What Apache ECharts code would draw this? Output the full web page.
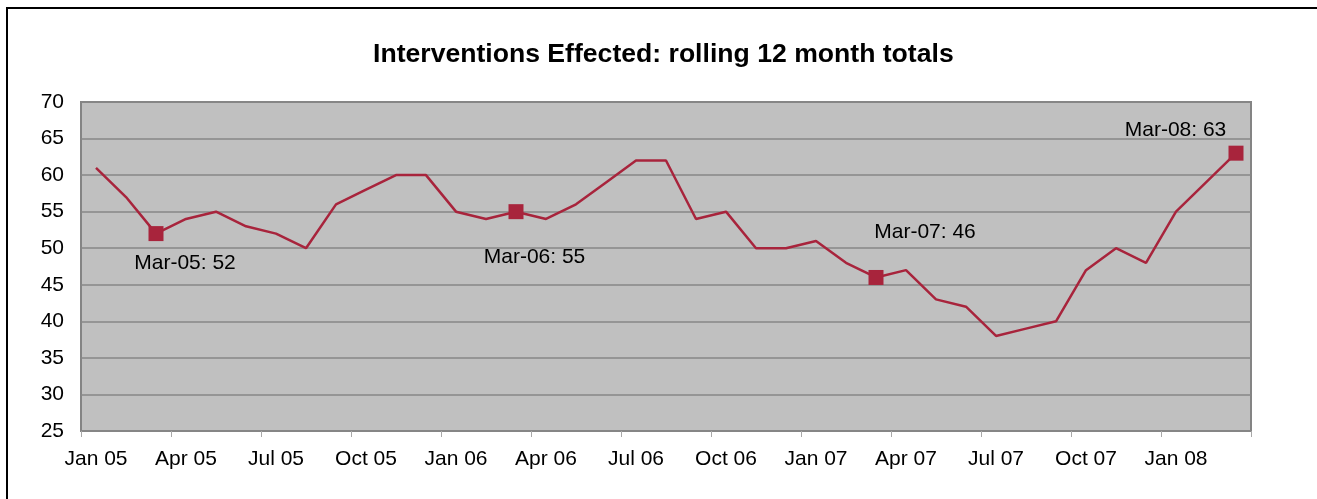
<!DOCTYPE html>
<html>
<head>
<meta charset="utf-8">
<script src="https://cdn.jsdelivr.net/npm/echarts@6/dist/echarts.min.js"></script>
<style>
html,body{margin:0;padding:0;background:#fff;}
#c{width:1317px;height:499px;}
</style>
</head>
<body>
<div id="c"></div>
<script>
var categories = [
  'Jan 05','Feb 05','Mar 05','Apr 05','May 05','Jun 05','Jul 05','Aug 05','Sep 05','Oct 05','Nov 05','Dec 05',
  'Jan 06','Feb 06','Mar 06','Apr 06','May 06','Jun 06','Jul 06','Aug 06','Sep 06','Oct 06','Nov 06','Dec 06',
  'Jan 07','Feb 07','Mar 07','Apr 07','May 07','Jun 07','Jul 07','Aug 07','Sep 07','Oct 07','Nov 07','Dec 07',
  'Jan 08','Feb 08','Mar 08'
];
var values = [
  61,57,52,54,55,53,52,50,56,58,60,60,
  55,54,55,54,56,59,62,62,54,55,50,50,
  51,48,46,47,43,42,38,39,40,47,50,48,
  55,59,63
];
var highlighted = ['Mar 05','Mar 06','Mar 07','Mar 08'];
var yTicks = [25,30,35,40,45,50,55,60,65,70];

var labelOffsets = {
  'Mar 05': [29, 30],
  'Mar 06': [18.5, 46],
  'Mar 07': [49, -45.5],
  'Mar 08': [-60.5, -22.5]
};

var markerData = categories.map(function (c, i) {
  if (highlighted.indexOf(c) < 0) return null;
  return {
    value: values[i],
    label: {
      show: true,
      position: 'inside',
      offset: labelOffsets[c],
      formatter: c.replace(' ', '-') + ': ' + values[i]
    }
  };
});

var chart = echarts.init(document.getElementById('c'), null, {renderer: 'canvas'});
chart.setOption({
  animation: false,
  backgroundColor: '#ffffff',
  title: {
    text: 'Interventions Effected: rolling 12 month totals',
    left: 373,
    top: 41,
    padding: 0,
    textStyle: {
      fontFamily: 'Liberation Sans, Arial, sans-serif',
      fontWeight: 'bold',
      fontSize: 26.6,
      color: '#000'
    }
  },
  graphic: [{
    type: 'polyline',
    shape: {points: [[7, 499], [7, 8], [1317, 8]]},
    style: {stroke: '#000', lineWidth: 2, fill: null},
    silent: true
  }],
  grid: {
    left: 81, right: 66, top: 102, bottom: 68,
    show: true,
    backgroundColor: '#C0C0C0',
    borderColor: '#848484',
    borderWidth: 2
  },
  xAxis: {
    type: 'category',
    data: categories,
    boundaryGap: true,
    axisLine: {show: false},
    axisTick: {show: true, interval: 2, length: 6, lineStyle: {color: '#a8a8a8', width: 1}},
    axisLabel: {
      interval: 2,
      margin: 18,
      fontFamily: 'Liberation Sans, Arial, sans-serif',
      fontSize: 21,
      color: '#000'
    },
    splitLine: {show: false}
  },
  yAxis: {
    type: 'value',
    min: yTicks[0],
    max: yTicks[yTicks.length - 1],
    interval: 5,
    axisLine: {show: false},
    axisTick: {show: false},
    axisLabel: {
      margin: 17,
      fontFamily: 'Liberation Sans, Arial, sans-serif',
      fontSize: 21,
      color: '#000'
    },
    splitLine: {show: true, lineStyle: {color: '#878787', width: 1.5}}
  },
  series: [{
    type: 'line',
    data: values,
    symbol: 'none',
    lineStyle: {color: '#A8243C', width: 2.5},
    z: 3
  }, {
    type: 'scatter',
    data: markerData,
    symbol: 'rect',
    symbolSize: 15,
    itemStyle: {color: '#A8243C', opacity: 1},
    label: {
      fontFamily: 'Liberation Sans, Arial, sans-serif',
      fontSize: 21,
      color: '#000',
      opacity: 1
    },
    z: 4
  }]
});
</script>
</body>
</html>
